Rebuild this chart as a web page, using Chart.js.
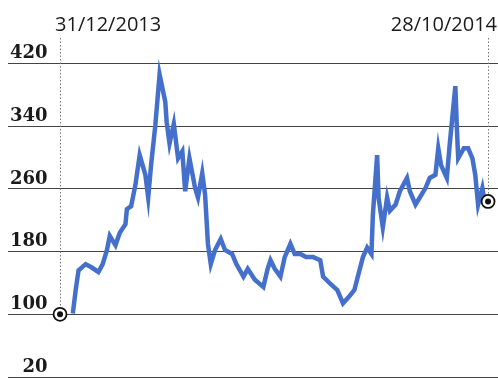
<!DOCTYPE html>
<html>
<head>
<meta charset="utf-8">
<script src="https://cdn.jsdelivr.net/npm/chart.js@4/dist/chart.umd.min.js"></script>
<style>
  html, body { margin: 0; padding: 0; background: #fff; }
  canvas { display: block; }
</style>
</head>
<body>
<canvas id="myChart" width="498" height="378"></canvas>
<script>
// days after 31/12/2013
var days = [9, 11, 13, 18, 22, 27, 30, 33, 35, 39, 42, 46, 47, 50, 53, 56, 60, 62, 64, 67,
  70, 74, 75, 77, 80, 83, 86, 88, 91, 95, 97, 100, 102, 104, 106, 109, 113, 116, 121, 124,
  129, 132, 137, 143, 146, 148, 151, 155, 158, 162, 165, 169, 173, 178, 183, 185, 190, 195,
  199, 203, 207, 210, 213, 216, 219, 220, 223, 224, 227, 230, 232, 236, 239, 244, 246, 250,
  253, 257, 260, 264, 266, 268, 272, 274, 278, 279, 280, 284, 287, 290, 292, 294, 297, 298];
var values = [101, 131, 156, 164, 160, 154, 164, 182, 200, 188, 204, 215, 234, 238, 265, 303, 278, 249, 290, 341,
  406, 371, 345, 318, 343, 299, 308, 257, 299, 261, 249, 280, 253, 190, 164, 182, 196, 182, 177, 164,
  148, 158, 144, 135, 158, 169, 158, 148, 173, 190, 177, 177, 173, 173, 169, 148, 139, 131,
  114, 122, 131, 152, 173, 185, 177, 227, 303, 249, 211, 249, 232, 240, 257, 274, 257, 240,
  249, 261, 274, 278, 312, 290, 274, 316, 391, 341, 299, 312, 312, 299, 278, 240, 261, 250];

var markerDays = [0, 301];
var markerValues = [100, 244];
var dateLabels = ["31/12/2013", "28/10/2014"];
var yTicks = [20, 100, 180, 260, 340, 420];

var line = days.map(function (d, i) { return { x: d, y: values[i] }; });
var markers = markerDays.map(function (d, i) { return { x: d, y: markerValues[i] }; });

// dotted date lines + date labels on top
var dateLines = {
  id: "dateLines",
  beforeDatasetsDraw: function (chart) {
    var ctx = chart.ctx;
    var x = chart.scales.x, y = chart.scales.y;
    var top = chart.chartArea.top;
    ctx.save();
    ctx.strokeStyle = "#777";
    ctx.lineWidth = 1;
    ctx.setLineDash([1.5, 2]);
    markerDays.forEach(function (d, i) {
      var px = Math.round(x.getPixelForValue(d)) + 0.5;
      ctx.beginPath();
      ctx.moveTo(px, top);
      ctx.lineTo(px, y.getPixelForValue(markerValues[i]) - 7);
      ctx.stroke();
    });
    ctx.restore();
  },
  afterDraw: function (chart) {
    var ctx = chart.ctx;
    var x = chart.scales.x;
    ctx.save();
    ctx.fillStyle = "#1a1a1a";
    ctx.font = "20px 'Open Sans'";
    ctx.textBaseline = "alphabetic";
    ctx.textAlign = "left";
    ctx.fillText(dateLabels[0], x.getPixelForValue(markerDays[0]) - 5, 31);
    ctx.textAlign = "right";
    ctx.fillText(dateLabels[1], chart.width - 1, 31);
    ctx.restore();
  }
};

new Chart(document.getElementById("myChart").getContext("2d"), {
  type: "scatter",
  data: {
    datasets: [
      {
        data: markers,
        pointRadius: 3,
        pointBackgroundColor: "#111",
        pointBorderWidth: 0,
        showLine: false,
        clip: false,
        order: 1
      },
      {
        data: markers,
        pointRadius: 6.5,
        pointBackgroundColor: "#fff",
        pointBorderColor: "#111",
        pointBorderWidth: 1.8,
        showLine: false,
        clip: false,
        order: 2
      },
      {
        data: line,
        showLine: true,
        borderColor: "#4470cc",
        borderWidth: 4.5,
        pointRadius: 0,
        tension: 0,
        order: 3
      }
    ]
  },
  options: {
    responsive: false,
    animation: false,
    layout: { autoPadding: false, padding: { left: 4, right: 0, top: 38, bottom: 1 } },
    plugins: { legend: { display: false }, tooltip: { enabled: false } },
    scales: {
      x: {
        type: "linear",
        display: false,
        min: -36.6,
        max: 308
      },
      y: {
        type: "linear",
        min: 20,
        max: 452.5,
        afterBuildTicks: function (axis) {
          axis.ticks = yTicks.map(function (v) { return { value: v }; });
        },
        afterFit: function (axis) {
          axis.paddingTop = 0;
          axis.paddingBottom = 0;
        },
        border: { display: false },
        grid: { color: "#444", lineWidth: 1, drawTicks: false },
        ticks: {
          mirror: true,
          crossAlign: "far",
          padding: 2,
          labelOffset: -10,
          color: "#1a1a1a",
          font: { family: "'DejaVu Serif'", size: 18, weight: "bold" }
        }
      }
    }
  },
  plugins: [dateLines]
});
</script>
</body>
</html>
